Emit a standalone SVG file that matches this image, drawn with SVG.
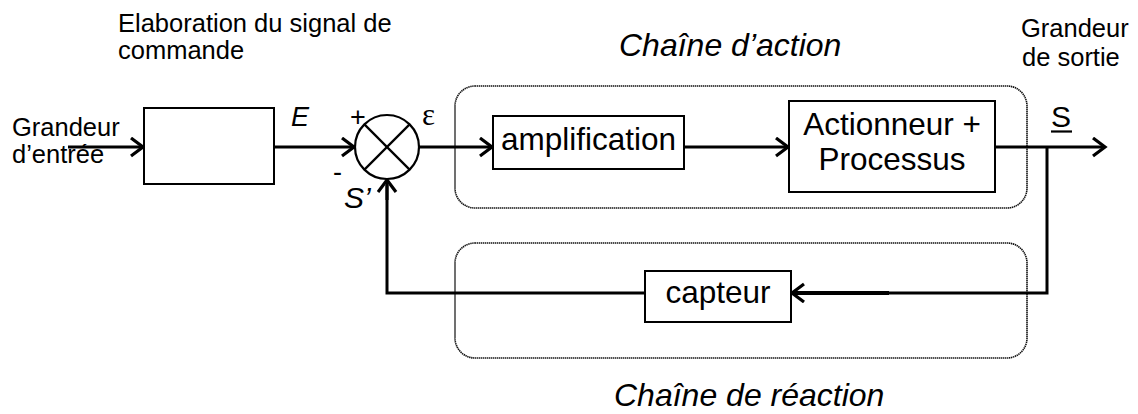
<svg xmlns="http://www.w3.org/2000/svg" width="1138" height="414" viewBox="0 0 1138 414">
<style>
  text { font-family: "Liberation Sans", Arial, sans-serif; fill: #000; }
  .lbl { font-size: 25.5px; }
  .box { fill: #fff; stroke: #000; stroke-width: 2; }
  .btxt { font-size: 31.5px; text-anchor: middle; }
  .ital { font-style: italic; }
  .group { fill: none; stroke: #111; stroke-width: 1.6; stroke-dasharray: 1.4 0.6; }
  .wire { fill: none; stroke: #000; stroke-width: 3; }
  .arr { fill: none; stroke: #000; stroke-width: 3; marker-end: url(#ah); }
</style>
<defs>
  <marker id="ah" markerUnits="userSpaceOnUse" markerWidth="20" markerHeight="24" refX="13" refY="10" orient="auto" viewBox="0 0 20 24">
    <path d="M1,1 L13,10 L1,19" fill="none" stroke="#000" stroke-width="3.2" stroke-linejoin="miter"/>
  </marker>
</defs>

<!-- group frames -->
<g id="chaine-action">
  <rect class="group" x="455" y="86" width="572" height="122" rx="20" ry="20"/>
  <text class="ital" x="619" y="56" font-size="32">Chaîne d’action</text>
</g>
<g id="chaine-reaction">
  <rect class="group" x="455" y="243" width="572" height="115" rx="20" ry="20"/>
  <text class="ital" x="614" y="406" font-size="32">Chaîne de réaction</text>
</g>

<!-- free labels -->
<g id="labels">
  <text class="lbl" x="118" y="32">Elaboration du signal de</text>
  <text class="lbl" x="118" y="59">commande</text>
  <text class="lbl" x="12" y="136">Grandeur</text>
  <text class="lbl" x="12" y="163">d’entrée</text>
  <text class="lbl" x="1021" y="37">Grandeur</text>
  <text class="lbl" x="1022" y="66">de sortie</text>
  <text class="ital" x="291" y="126" font-size="27">E</text>
  <text x="350" y="126" font-size="27">+</text>
  <text x="333" y="181" font-size="27">-</text>
  <text class="ital" x="344" y="208" font-size="30">S’</text>
  <text x="422" y="125" font-size="31" style="font-family:'Liberation Serif','Times New Roman',serif">ε</text>
  <text x="1051" y="127" font-size="30">S</text>
  <line x1="1051" y1="131.5" x2="1072" y2="131.5" stroke="#000" stroke-width="2.2"/>
</g>

<!-- connectors -->
<g id="connectors">
  <line class="arr" x1="68" y1="147" x2="143" y2="147"/>
  <line class="arr" x1="274" y1="147" x2="354" y2="147"/>
  <line class="arr" x1="419" y1="147" x2="492" y2="147"/>
  <line class="arr" x1="685" y1="147" x2="788" y2="147"/>
  <line class="arr" x1="995" y1="147" x2="1105" y2="147"/>
  <polyline class="wire" points="1047,147 1047,293 889,293"/>
  <line class="arr" x1="889" y1="293" x2="792" y2="293" style="stroke-width:4"/>
  <polyline class="wire" points="645,293 387,293 387,185"/>
  <line class="arr" x1="387" y1="200" x2="387" y2="180"/>
</g>

<!-- nodes -->
<g id="elaboration">
  <rect class="box" x="144" y="108" width="130" height="76"/>
</g>
<g id="comparateur">
  <circle cx="387" cy="147" r="32" fill="#fff" stroke="#000" stroke-width="2.2"/>
  <line x1="364.4" y1="124.4" x2="409.6" y2="169.6" stroke="#000" stroke-width="2.2"/>
  <line x1="409.6" y1="124.4" x2="364.4" y2="169.6" stroke="#000" stroke-width="2.2"/>
</g>
<g id="amplification">
  <rect class="box" x="493" y="116" width="191" height="53"/>
  <text class="btxt" x="588.5" y="150" font-size="32">amplification</text>
</g>
<g id="actionneur">
  <rect class="box" x="789" y="101" width="206" height="91"/>
  <text class="btxt" x="892" y="135">Actionneur +</text>
  <text class="btxt" x="892" y="170">Processus</text>
</g>
<g id="capteur">
  <rect class="box" x="645" y="271" width="146" height="51"/>
  <text class="btxt" x="718" y="303">capteur</text>
</g>
</svg>
